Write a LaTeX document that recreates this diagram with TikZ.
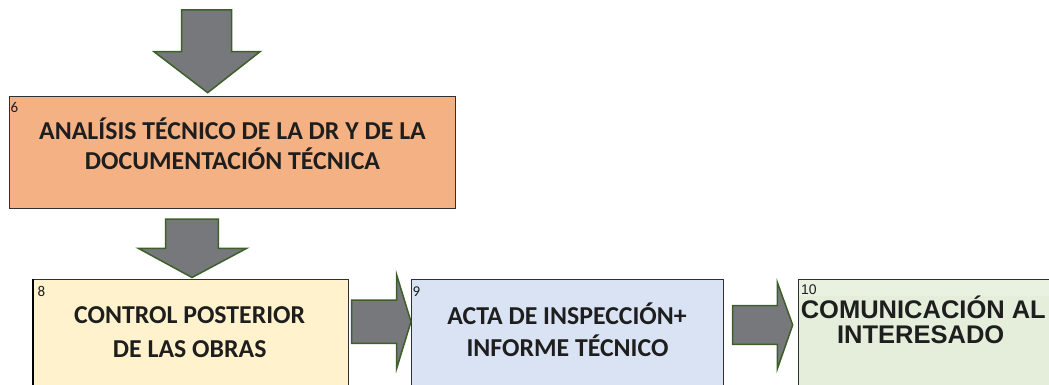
\documentclass[tikz,border=0pt]{standalone}
\usepackage{fontspec}
\setmainfont{Carlito}
\newfontfamily\arialfont{Liberation Sans}
\definecolor{orangefill}{HTML}{F4B183}
\definecolor{yellowfill}{HTML}{FFF2CC}
\definecolor{bluefill}{HTML}{DAE3F3}
\definecolor{greenfill}{HTML}{E4EEDA}
\definecolor{greenband}{HTML}{E9F1E1}
\definecolor{arrowfill}{HTML}{77787B}
\definecolor{arrowline}{HTML}{3D5F2A}
\definecolor{boxline}{HTML}{303030}
\definecolor{txt}{HTML}{1E1E1E}
\tikzset{
  procbox/.style={draw=boxline, line width=1.1pt, rectangle, inner sep=0pt, anchor=north west},
  blockarrow/.style={fill=arrowfill, draw=arrowline, line width=1.5pt, line join=miter},
  maintext/.style={anchor=base, inner sep=0pt, text=txt, font=\bfseries\fontsize{25.8}{25.8}\selectfont},
  arialtext/.style={anchor=base, inner sep=0pt, text=txt, font=\arialfont\bfseries\fontsize{25.5}{25.5}\selectfont},
  numlabel/.style={anchor=north west, inner sep=0pt, text=txt, font=\fontsize{15}{15}\selectfont},
  arialnum/.style={anchor=north west, inner sep=0pt, text=txt, font=\arialfont\fontsize{14}{14}\selectfont}
}
\begin{document}
\begin{tikzpicture}[x=1pt,y=-1pt]
\useasboundingbox (0,0) rectangle (1049,385);
\clip (0,0) rectangle (1049,385);

% boxes
\node[procbox, fill=orangefill, minimum width=445.7pt, minimum height=112pt] (b6) at (9.3,95.7) {};
\node[procbox, fill=yellowfill, minimum width=315.3pt, minimum height=130pt] (b8) at (32.7,279.3) {};
\node[procbox, fill=bluefill, minimum width=312.3pt, minimum height=130pt] (b9) at (411,279.3) {};
\node[procbox, fill=greenfill, minimum width=300pt, minimum height=130pt] (b10) at (798.3,279.3) {};
\fill[greenband] ([xshift=0.6pt,yshift=-0.6pt]b10.north west) rectangle ([xshift=-0.6pt,yshift=-17pt]b10.north east);
\draw[line width=1.1pt, draw=boxline] (b10.north west) -- (b10.north east);
\draw[line width=2pt, draw=black] (b8.north west) -- (b8.south west);

% block arrows
\draw[blockarrow] (181.7,10) -- (231.7,10) -- (231.7,51.7) -- (260,51.7) -- (207.7,92.7) -- (154,51.7) -- (181.7,51.7) -- cycle;
\draw[blockarrow] (165.7,219) -- (218.3,219) -- (218.3,248.3) -- (246.7,248.3) -- (192,277.5) -- (138.3,248.3) -- (165.7,248.3) -- cycle;
\draw[blockarrow] (351.7,300) -- (396.7,300) -- (396.7,275) -- (411,321.7) -- (396.7,368.3) -- (396.7,343.3) -- (351.7,343.3) -- cycle;
\draw[blockarrow] (732.7,305.7) -- (777.3,305.7) -- (777.3,282.3) -- (792.7,325) -- (777.3,369) -- (777.3,344.3) -- (732.7,344.3) -- cycle;

% number labels
\node[numlabel] (n6) at (10.3,102.3) {6};
\node[numlabel] (n8) at (37.3,285.7) {8};
\node[numlabel] (n9) at (412.3,286.7) {9};
\node[arialnum] (n10) at (801,285) {10};

% texts
\node[maintext] (t6a) at (232.5,139.4) {ANALÍSIS TÉCNICO DE LA DR Y DE LA};
\node[maintext] (t6b) at (232.5,169.3) {DOCUMENTACIÓN TÉCNICA};
\node[maintext] (t8a) at (189.7,323.3) {CONTROL POSTERIOR};
\node[maintext] (t8b) at (189.7,357.3) {DE LAS OBRAS};
\node[maintext] (t9a) at (567,324) {ACTA DE INSPECCIÓN+};
\node[maintext] (t9b) at (567.5,356) {INFORME TÉCNICO};
\node[arialtext] (t10a) at (923.3,318.3) {COMUNICACIÓN AL};
\node[arialtext] (t10b) at (920.7,343.3) {INTERESADO};
\end{tikzpicture}
\end{document}
